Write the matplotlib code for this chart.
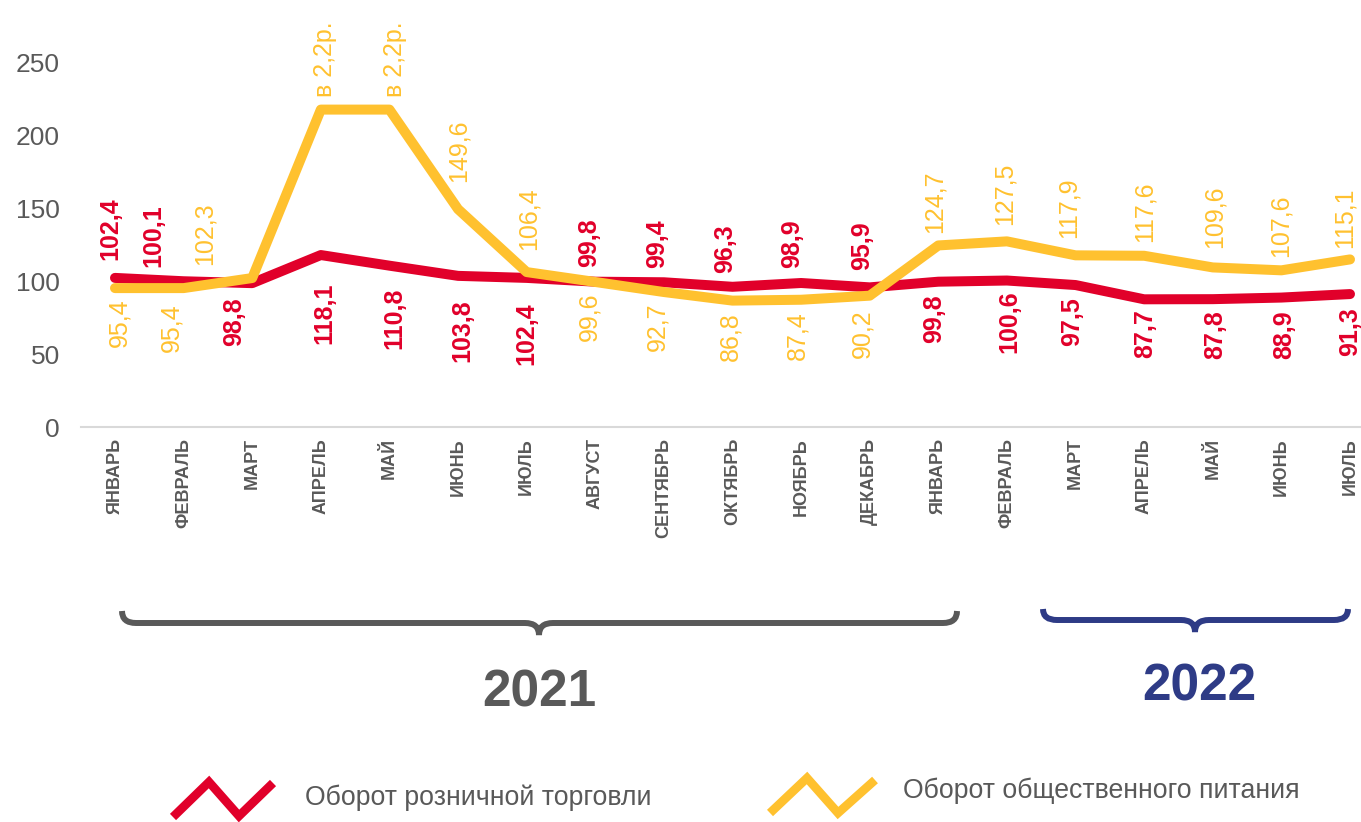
import matplotlib
matplotlib.use("Agg")
import matplotlib.pyplot as plt
from matplotlib.path import Path
from matplotlib.patches import PathPatch

plt.rcParams['font.family'] = ['Liberation Sans', 'DejaVu Sans']

# data
months = ["ЯНВАРЬ", "ФЕВРАЛЬ", "МАРТ", "АПРЕЛЬ", "МАЙ", "ИЮНЬ", "ИЮЛЬ",
          "АВГУСТ", "СЕНТЯБРЬ", "ОКТЯБРЬ", "НОЯБРЬ", "ДЕКАБРЬ",
          "ЯНВАРЬ", "ФЕВРАЛЬ", "МАРТ", "АПРЕЛЬ", "МАЙ", "ИЮНЬ", "ИЮЛЬ"]
retail = [102.4, 100.1, 98.8, 118.1, 110.8, 103.8, 102.4, 99.8, 99.4, 96.3,
          98.9, 95.9, 99.8, 100.6, 97.5, 87.7, 87.8, 88.9, 91.3]
# April/May 2021 drawn at ~218 (label says "в 2,2р.")
catering = [95.4, 95.4, 102.3, 218, 218, 149.6, 106.4, 99.6, 92.7, 86.8,
            87.4, 90.2, 124.7, 127.5, 117.9, 117.6, 109.6, 107.6, 115.1]
catering_text = ["95,4", "95,4", "102,3", "в 2,2р.", "в 2,2р.", "149,6", "106,4",
                 "99,6", "92,7", "86,8", "87,4", "90,2", "124,7", "127,5",
                 "117,9", "117,6", "109,6", "107,6", "115,1"]
years = ["2021", "2022"]
series_names = ["Оборот розничной торговли", "Оборот общественного питания"]

# label placement tweaks (pixels), sign of dy = above / below
red_dx = [-7, -32, -20, 2, 3, 2, -2, -8, -9, -9, -11, -10, -6, 0, -5, -1, 0, 1, -2]
red_dy = [18, 14, -14, -27, -22, -24, -24, 15, 14, 14, 15, 17, -13, -10, -12, -10, -11, -13, -13]
yel_dx = [2, -14, -50, 2, 4, -1, 0, -8, -9, -4, -6, -9, -6, -4, -9, -2, 0, -3, -7]
yel_dy = [-10, -15, 13, 13, 13, 27, 22, -11, -10, -12, -12, -14, 12, 16, 17, 14, 19, 13, 11]

RED = "#E1002A"
YEL = "#FFC12F"
GRAY = "#595959"
NAVY = "#2E3B86"
W, H = 1361, 822

fig = plt.figure(figsize=(W / 100, H / 100), dpi=100)
ax = fig.add_axes([80.7 / W, 1 - 427 / H, 1303.6 / W, 364 / H])

x = list(range(len(months)))
ax.plot(x, retail, color=RED, lw=7.2, solid_capstyle='round',
        solid_joinstyle='round', zorder=3)
ax.plot(x, catering, color=YEL, lw=7.2, solid_capstyle='round',
        solid_joinstyle='round', zorder=4)

for i, v in enumerate(retail):
    txt = f"{v:.1f}".replace('.', ',')
    ax.annotate(txt, (i, v), xytext=(red_dx[i] + 2, red_dy[i]),
                textcoords='offset pixels', rotation=90, ha='center',
                va='bottom' if red_dy[i] > 0 else 'top',
                fontsize=18, fontweight='bold', color=RED)
for i, v in enumerate(catering):
    ax.annotate(catering_text[i], (i, v), xytext=(yel_dx[i] + 2, yel_dy[i]),
                textcoords='offset pixels', rotation=90, ha='center',
                va='bottom' if yel_dy[i] > 0 else 'top',
                fontsize=18, color=YEL)

ax.set_xlim(-0.5, len(months) - 0.5)
ax.set_ylim(0, 250)
ax.set_yticks(range(0, 251, 50))
ax.set_xticks(x)
ax.set_xticklabels(months, rotation=90, fontweight='bold')
ax.tick_params(axis='y', length=0, pad=15, labelsize=19, labelcolor=GRAY)
ax.tick_params(axis='x', length=0, pad=8, labelsize=13, labelcolor=GRAY)
for s in ['top', 'right', 'left']:
    ax.spines[s].set_visible(False)
ax.spines['bottom'].set_color('#D9D9D9')
ax.spines['bottom'].set_linewidth(1.5)

# overlay in pixel coordinates for braces, years and legend
ov = fig.add_axes([0, 0, 1, 1])
ov.set_xlim(0, W)
ov.set_ylim(H, 0)
ov.axis('off')
ov.patch.set_alpha(0)


def brace(x0, x1, xc, ytop, yline, ytip, r, color):
    verts = [(x0, ytop), (x0, yline), (x0 + r, yline),
             (xc - r, yline),
             (xc, yline), (xc, ytip),
             (xc, yline), (xc + r, yline),
             (x1 - r, yline),
             (x1, yline), (x1, ytop)]
    codes = [Path.MOVETO, Path.CURVE3, Path.CURVE3,
             Path.LINETO,
             Path.CURVE3, Path.CURVE3,
             Path.CURVE3, Path.CURVE3,
             Path.LINETO,
             Path.CURVE3, Path.CURVE3]
    ov.add_patch(PathPatch(Path(verts, codes), fill=False, edgecolor=color,
                           lw=4.3, capstyle='butt'))


brace(122, 957, 539, 611, 623, 635, 14, GRAY)
brace(1043, 1348, 1195, 609, 620, 632, 14, NAVY)
ov.text(539, 693, years[0], ha='center', va='center', fontsize=37,
        fontweight='bold', color=GRAY)
ov.text(1199, 687, years[1], ha='center', va='center', fontsize=37,
        fontweight='bold', color=NAVY)

# legend zigzags
ov.plot([173, 209, 239, 273], [817, 782, 816, 783], color=RED, lw=6.3,
        solid_capstyle='butt', solid_joinstyle='miter')
ov.plot([770, 807, 838, 875], [813, 778, 813, 780], color=YEL, lw=6.3,
        solid_capstyle='butt', solid_joinstyle='miter')
ov.text(305, 798, series_names[0], ha='left', va='center', fontsize=19.2,
        color=GRAY)
ov.text(903, 791, series_names[1], ha='left', va='center', fontsize=19.2,
        color=GRAY)

fig.savefig("out.png", dpi=100)
